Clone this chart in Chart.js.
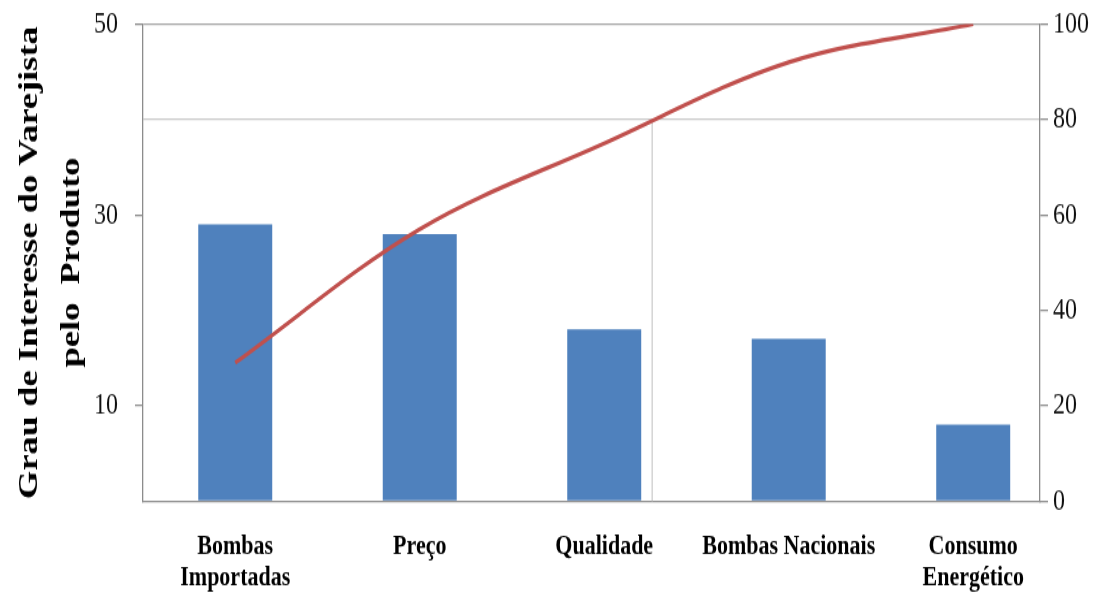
<!DOCTYPE html>
<html>
<head>
<meta charset="utf-8">
<script src="https://cdn.jsdelivr.net/npm/chart.js@4"></script>
<style>
  html, body { margin: 0; padding: 0; background: #fff; }
</style>
</head>
<body>
<!-- drawn at 456px tall and shown at 593px: text and marks come out tall and narrow -->
<canvas id="pareto" width="1099" height="456" style="display:block;width:1099px;height:593px"></canvas>
<script>
// categories and values
const categories = [['Bombas', 'Importadas'], 'Preço', 'Qualidade', 'Bombas Nacionais', ['Consumo', 'Energético']]
const interest = [29, 28, 18, 17, 8]
const cumulative = [29, 57, 75, 92, 100]
const leftTicks = [10, 30, 50]
const rightTicks = [0, 20, 40, 60, 80, 100]

const serif = 'Liberation Serif'
const axisGray = '#8c8c8c'

// thin frame edge left over inside the plot (x in category units, y in left-axis units)
const frameEdge = { x: 2.26, top: 40 }

const frameLine = {
    id: 'frameLine',
    beforeDatasetsDraw(chart) {
        const { ctx, scales } = chart
        const x = scales.x.getPixelForValue(frameEdge.x)
        ctx.save()
        ctx.strokeStyle = '#d4d4d4'
        ctx.lineWidth = 1.5
        ctx.beginPath()
        ctx.moveTo(x, scales.y.getPixelForValue(frameEdge.top))
        ctx.lineTo(x, scales.y.getPixelForValue(0))
        ctx.stroke()
        ctx.restore()
    }
}

// fixed width for the vertical axes, and no extra room for the end labels
const fitSide = (width) => (scale) => {
    scale.width = width
    scale.paddingTop = 0
    scale.paddingBottom = 0
}

const ctx = document.getElementById('pareto').getContext('2d')

new Chart(ctx, {
    data: {
        datasets: [
            {
                type: 'line',
                data: cumulative.map((v, i) => ({ x: i, y: v })),
                yAxisID: 'y2',
                borderColor: '#c0504d',
                borderWidth: 3.2,
                pointRadius: 0,
                tension: 0.35,
                order: 0
            },
            {
                type: 'bar',
                data: interest.map((v, i) => ({ x: i, y: v })),
                yAxisID: 'y',
                backgroundColor: '#4f81bd',
                categoryPercentage: 1,
                barPercentage: 0.401,
                order: 1
            }
        ]
    },
    plugins: [frameLine],
    options: {
        responsive: false,
        animation: false,
        layout: {
            padding: { top: 18.5, right: 0, bottom: 0, left: 0 }
        },
        plugins: {
            legend: { display: false },
            tooltip: { enabled: false }
        },
        scales: {
            x: {
                type: 'linear',
                min: -0.5,
                max: 4.362,
                offset: false,
                afterBuildTicks: (scale) => {
                    scale.ticks = categories.map((c, i) => ({ value: i }))
                },
                afterFit: (scale) => { scale.height = 70.7 },
                ticks: {
                    callback: (value) => categories[value],
                    maxRotation: 0,
                    autoSkip: false,
                    padding: 23,
                    color: '#000',
                    font: { family: serif, size: 22, weight: 'bold', lineHeight: 1.09 }
                },
                grid: { offset: false, drawOnChartArea: false, drawTicks: false },
                border: { color: axisGray, width: 1.3 }
            },
            y: {
                position: 'left',
                min: 0,
                max: 50,
                afterBuildTicks: (scale) => {
                    scale.ticks = [0, 10, 20, 30, 40, 50].map(v => ({ value: v }))
                },
                afterFit: fitSide(143),
                ticks: {
                    callback: (value) => leftTicks.includes(value) ? value : '',
                    padding: 17,
                    color: '#111',
                    font: { family: serif, size: 24 }
                },
                grid: {
                    color: (c) => c.tick.value === 50 ? '#a6a6a6' : (c.tick.value === 40 ? '#c8c8c8' : 'transparent'),
                    tickColor: (c) => leftTicks.includes(c.tick.value) ? axisGray : 'transparent',
                    tickLength: 8,
                    lineWidth: 1.3
                },
                border: { color: axisGray, width: 1.3 },
                title: {
                    display: true,
                    text: ['Grau de Interesse do Varejista', 'pelo  Produto'],
                    color: '#000',
                    padding: { top: 9, bottom: 0 },
                    font: { family: serif, size: 28, weight: 'bold', lineHeight: 1.5 }
                }
            },
            y2: {
                position: 'right',
                min: 0,
                max: 100,
                afterBuildTicks: (scale) => {
                    scale.ticks = rightTicks.map(v => ({ value: v }))
                },
                afterFit: fitSide(59),
                ticks: {
                    padding: 5,
                    color: '#111',
                    font: { family: serif, size: 24 }
                },
                grid: {
                    drawOnChartArea: false,
                    tickColor: axisGray,
                    tickLength: 8,
                    lineWidth: 1.3
                },
                border: { color: axisGray, width: 1.3 }
            }
        }
    }
})
</script>
</body>
</html>
